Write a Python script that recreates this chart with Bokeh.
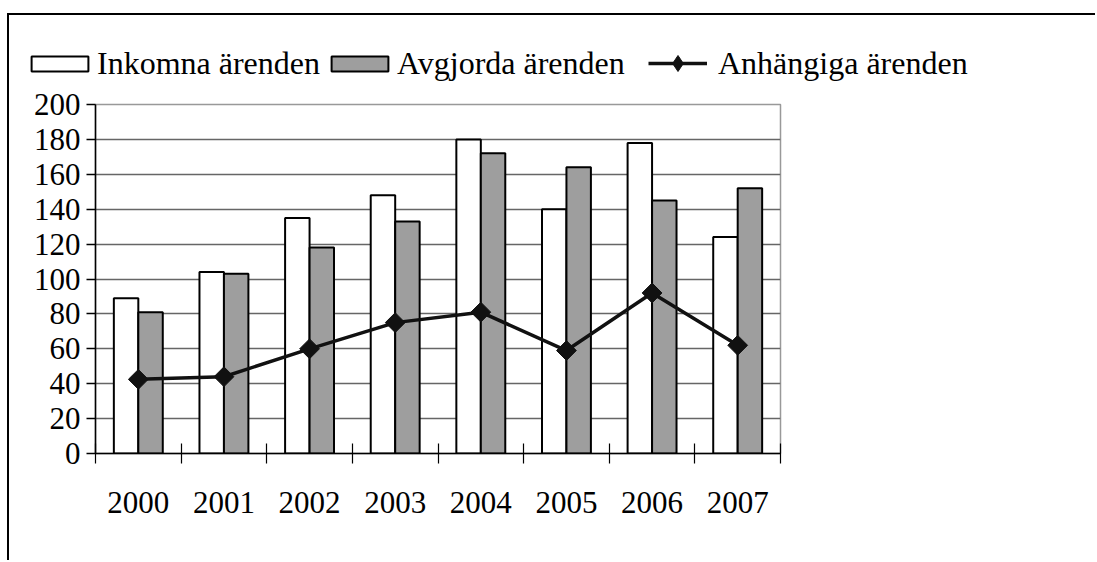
import numpy as np
from bokeh.plotting import figure
from bokeh.models import Range1d, FixedTicker, Legend, LegendItem
from bokeh.embed import file_html
from bokeh.resources import INLINE

# ---- data ----
years = ["2000", "2001", "2002", "2003", "2004", "2005", "2006", "2007"]
inkomna = [89, 104, 135, 148, 180, 140, 178, 124]
avgjorda = [81, 103, 118, 133, 172, 164, 145, 152]
anhangiga = [42.5, 44, 60, 75, 81, 59, 92, 62]
y_ticks = [0, 20, 40, 60, 80, 100, 120, 140, 160, 180, 200]
series_names = ["Inkomna ärenden", "Avgjorda ärenden", "Anhängiga ärenden"]

FONT = "Liberation Serif"
FS = "31px"
LFS = "32px"
GRAY = "#9e9e9e"
DARK = "#111111"

W = 1088
LEG_H = 75
MAIN_H = 472

bw = 1 / 3.5
centers = np.arange(len(years)) + 0.5

# ---------------- main chart ----------------
p = figure(width=W, height=MAIN_H, output_backend="svg", toolbar_location=None,
           x_range=Range1d(0, len(years)), y_range=Range1d(0, 200),
           min_border_left=86, min_border_right=317,
           min_border_top=16, min_border_bottom=107)
p.styles = {"margin-left": "7px", "border-left": "2px solid black"}
p.background_fill_color = "white"
p.border_fill_color = "white"
p.outline_line_color = "#999999"
p.outline_line_width = 1.5


def draw_series(fig, marker="square", angle=np.pi / 4, size=14):
    a = fig.vbar(x=centers - bw / 2, top=inkomna, bottom=0, width=bw,
                 fill_color="white", line_color="black", line_width=2)
    b = fig.vbar(x=centers + bw / 2, top=avgjorda, bottom=0, width=bw,
                 fill_color=GRAY, line_color="black", line_width=2)
    c = fig.line(centers, anhangiga, line_width=3.5, line_color=DARK)
    d = fig.scatter(centers, anhangiga, marker=marker, angle=angle,
                    size=size, fill_color=DARK, line_color=DARK)
    return a, b, c, d


draw_series(p)

p.xgrid.visible = False
p.ygrid.ticker = FixedTicker(ticks=y_ticks)
p.ygrid.grid_line_color = "#666666"
p.ygrid.grid_line_width = 1.3

ya = p.yaxis[0]
ya.ticker = FixedTicker(ticks=y_ticks, minor_ticks=[])
ya.axis_line_color = "black"
ya.axis_line_width = 1.5
ya.major_tick_in = 0
ya.major_tick_out = 9
ya.major_tick_line_width = 1.5
ya.minor_tick_line_color = None
ya.major_label_standoff = 6
ya.major_label_text_font = FONT
ya.major_label_text_font_size = FS
ya.major_label_text_color = "black"

xa = p.xaxis[0]
xa.ticker = FixedTicker(ticks=list(centers), minor_ticks=list(range(len(years) + 1)))
xa.major_label_overrides = {float(c): y for c, y in zip(centers, years)}
xa.axis_line_color = "black"
xa.axis_line_width = 1.5
xa.major_tick_in = 0
xa.major_tick_out = 0
xa.minor_tick_in = 10
xa.minor_tick_out = 10
xa.minor_tick_line_color = "black"
xa.minor_tick_line_width = 1.2
xa.major_label_standoff = 28
xa.major_label_text_font = FONT
xa.major_label_text_font_size = FS
xa.major_label_text_color = "black"

# ---------------- legend strip (same series, drawn out of view) ----------------
lf = figure(width=W, height=LEG_H, output_backend="svg", toolbar_location=None,
            x_range=Range1d(100, 101), y_range=Range1d(1000, 1001),
            x_axis_type=None, y_axis_type=None,
            min_border_left=0, min_border_right=0,
            min_border_top=0, min_border_bottom=0)
lf.styles = {"margin-top": "13px", "margin-left": "7px",
             "border-left": "2px solid black", "border-top": "2px solid black"}
lf.outline_line_color = None
lf.grid.visible = False
lf.background_fill_color = "white"
lf.border_fill_color = "white"

l_ink, l_avg, l_line, l_pts = draw_series(lf, marker="diamond", angle=0, size=16)


def style_legend(lg):
    lg.orientation = "horizontal"
    lg.padding = 0
    lg.margin = 0
    lg.border_line_alpha = 0
    lg.background_fill_alpha = 0
    lg.label_text_font = FONT
    lg.label_text_font_size = LFS
    lg.label_text_color = "black"


leg1 = Legend(items=[LegendItem(label=series_names[0], renderers=[l_ink]),
                     LegendItem(label=series_names[1], renderers=[l_avg])],
              location=(15, 8))
style_legend(leg1)
leg1.glyph_width = 71
leg1.glyph_height = 19
leg1.label_standoff = 2
leg1.spacing = 4

leg2 = Legend(items=[LegendItem(label=series_names[2], renderers=[l_line, l_pts])],
              location=(639, 7))
style_legend(leg2)
leg2.glyph_width = 59
leg2.glyph_height = 40
leg2.label_standoff = 11

lf.add_layout(leg1)
lf.add_layout(leg2)

open("out.html", "w").write(file_html([lf, p], INLINE))
